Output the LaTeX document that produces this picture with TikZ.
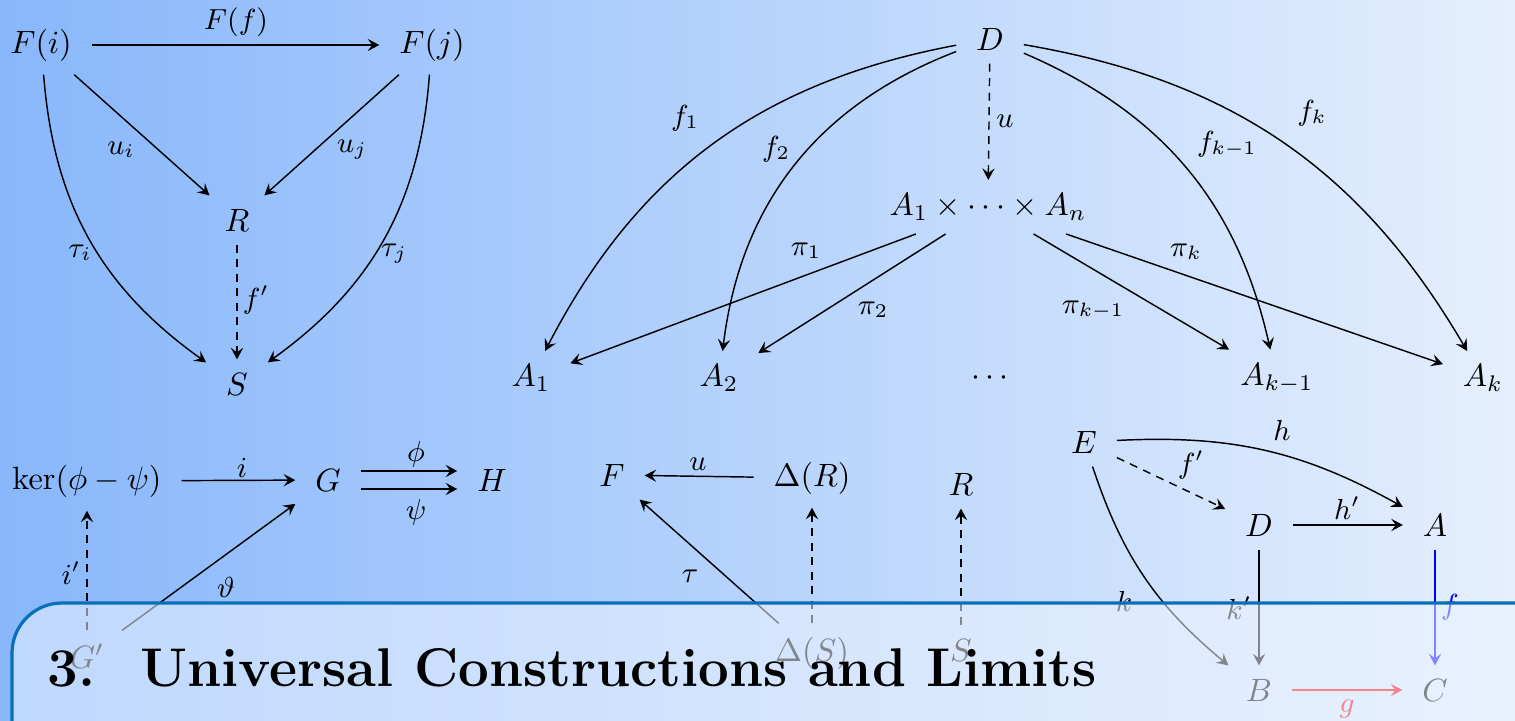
\documentclass[tikz,border=0pt]{standalone}
\usetikzlibrary{arrows.meta}
\definecolor{bgleft}{RGB}{136,183,251}
\definecolor{bgright}{RGB}{229,239,253}
\definecolor{framecol}{RGB}{10,110,185}
\definecolor{veil}{RGB}{236,244,255}
\tikzset{
  obj/.style={inner xsep=6pt, inner ysep=4pt, font=\normalsize},
  lbl/.style={inner sep=0pt, font=\small},
  arr/.style={-{Stealth[length=3.6pt,width=3.8pt,inset=1.4pt]}, line width=0.45pt},
  dsh/.style={arr, dash pattern=on 2.5pt off 2pt},
  ttl/.style={anchor=base west, inner sep=0pt, font=\fontsize{16.9}{20}\selectfont\bfseries}
}
\begin{document}
\begin{tikzpicture}[x=0.31pt,y=-0.31pt]
\useasboundingbox (0,0) rectangle (1515,721);
\clip (0,0) rectangle (1515,721);
\shade[left color=bgleft,right color=bgright] (0,0) rectangle (1515,721);

% ---- diagram 1: cone ----
\node[obj] (Fi) at (41,45) {$F(i)$};
\node[obj] (Fj) at (432,45) {$F(j)$};
\node[obj] (R1) at (237,220) {$R$};
\node[obj] (S1) at (237,384) {$S$};
\draw[arr] (Fi) -- (Fj);
\draw[arr] (Fi) -- (R1);
\draw[arr] (Fj) -- (R1);
\draw[dsh] (R1) -- (S1);
\draw[arr] (Fi) to[bend right=25] (S1);
\draw[arr] (Fj) to[bend left=25] (S1);
\node[lbl] (lFf) at (236,22) {$F(f)$};
\node[lbl] (lui) at (121,150) {$u_i$};
\node[lbl] (luj) at (352,150) {$u_j$};
\node[lbl] (lti) at (80,253) {$\tau_i$};
\node[lbl] (ltj) at (394,254) {$\tau_j$};
\node[lbl] (lfp) at (256,300) {$f'$};

% ---- diagram 2: product ----
\node[obj] (D) at (990,39) {$D$};
\node[obj] (P) at (988,207) {$A_1\times\cdots\times A_n$};
\node[obj] (A1) at (531,378) {$A_1$};
\node[obj] (A2) at (719,378) {$A_2$};
\node[obj] (Ad) at (990,378) {$\cdots$};
\node[obj] (Ak1) at (1277,378) {$A_{k-1}$};
\node[obj] (Ak) at (1483,378) {$A_k$};
\draw[dsh] (D) -- (P);
\draw[arr] (D) to[bend right=26] (A1);
\draw[arr] (D) to[bend right=31] (A2);
\draw[arr] (D) to[bend left=27] (Ak1);
\draw[arr] (D) to[bend left=25] (Ak);
\draw[arr] (P) -- (A1);
\draw[arr] (P) -- (A2);
\draw[arr] (P) -- (Ak1);
\draw[arr] (P) -- (Ak);
\node[lbl] (lu) at (1005,121) {$u$};
\node[lbl] (lf1) at (685,118) {$f_1$};
\node[lbl] (lf2) at (776,149) {$f_2$};
\node[lbl] (lfk1) at (1227,144) {$f_{k-1}$};
\node[lbl] (lfk) at (1312,113) {$f_k$};
\node[lbl] (lp1) at (806,251) {$\pi_1$};
\node[lbl] (lp2) at (873,310) {$\pi_2$};
\node[lbl] (lpk1) at (1093,310) {$\pi_{k-1}$};
\node[lbl] (lpk) at (1186,252) {$\pi_k$};

% ---- diagram 3: equalizer ----
\node[obj] (K) at (87,481) {$\ker(\phi-\psi)$};
\node[obj] (G) at (328,480) {$G$};
\node[obj] (H) at (492,480) {$H$};
\node[obj] (Gp) at (87,656) {$G'$};
\draw[arr] (K) -- (G);
\draw[arr] ([yshift=2.8pt]G.east) -- ([yshift=2.8pt]H.west);
\draw[arr] ([yshift=-2.8pt]G.east) -- ([yshift=-2.8pt]H.west);
\draw[dsh] (Gp) -- (K);
\draw[arr] (Gp) -- (G);
\node[lbl] (li) at (242,468) {$i$};
\node[lbl] (lphi) at (416,454) {$\phi$};
\node[lbl] (lpsi) at (416,512) {$\psi$};
\node[lbl] (lip) at (71,573) {$i'$};
\node[lbl] (lth) at (226,587) {$\vartheta$};

% ---- diagram 4: limit of functor ----
\node[obj] (F) at (612,475) {$F$};
\node[obj] (DR) at (812,478) {$\Delta(R)$};
\node[obj] (DS) at (812,653) {$\Delta(S)$};
\node[obj] (R3) at (961,484) {$R$};
\node[obj] (S3) at (961,650) {$S$};
\draw[arr] (DR) -- (F);
\draw[arr] (DS) -- (F);
\draw[dsh] (DS) -- (DR);
\draw[dsh] (S3) -- (R3);
\node[lbl] (lu2) at (698,464) {$u$};
\node[lbl] (ltau) at (690,576) {$\tau$};

% ---- diagram 5: pullback ----
\node[obj] (E) at (1084,442) {$E$};
\node[obj] (D5) at (1259,525) {$D$};
\node[obj] (A5) at (1435,525) {$A$};
\node[obj] (B5) at (1259,690) {$B$};
\node[obj] (C5) at (1435,690) {$C$};
\draw[arr] (E) to[bend left=16] (A5);
\draw[dsh] (E) -- (D5);
\draw[arr] (E) to[bend right=16] (B5);
\draw[arr] (D5) -- (A5);
\draw[arr] (D5) -- (B5);
\draw[arr, blue] (A5) -- (C5);
\draw[arr, red] (B5) -- (C5);
\node[lbl] (lh) at (1282,430) {$h$};
\node[lbl] (lfp5) at (1191,465) {$f'$};
\node[lbl] (lhp) at (1347,508) {$h'$};
\node[lbl] (lk) at (1124,601) {$k$};
\node[lbl] (lkp) at (1239,608) {$k'$};
\node[lbl, text=blue] (lf) at (1450,607) {$f$};
\node[lbl, text=red] (lg) at (1347,709) {$g$};

% ---- title overlay ----
\draw[framecol, line width=1pt, fill=veil, fill opacity=0.55, rounded corners=15.5pt]
  (12,603) rectangle (1600,800);
\node[ttl] (num) at (47,686) {3.};
\node[ttl] (title) at (140,686) {Universal Constructions and Limits};
\end{tikzpicture}
\end{document}
